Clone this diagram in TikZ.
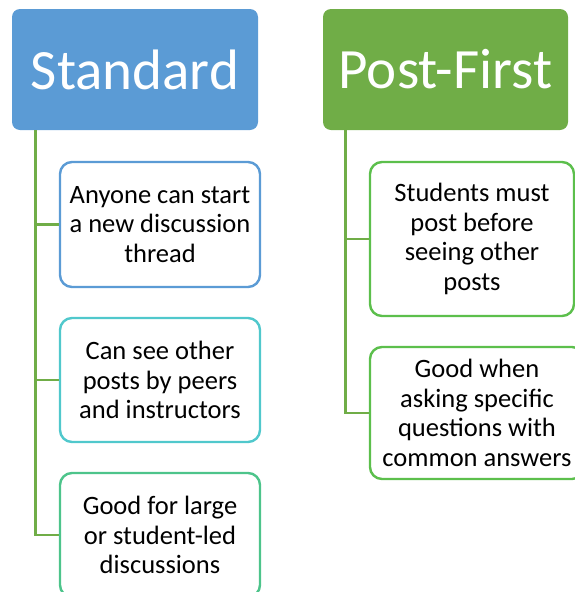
\documentclass[tikz,border=0pt]{standalone}
\usepackage{xcolor}
\usepackage{fontspec}
\setmainfont{Carlito}

\definecolor{stdblue}{HTML}{5B9BD5}
\definecolor{pfgreen}{HTML}{70AD47}
\definecolor{tealline}{HTML}{50C8CC}
\definecolor{mintline}{HTML}{4DC48B}
\definecolor{leafgreen}{HTML}{5CBF4C}

\tikzset{
  head/.style={rectangle, rounded corners=8pt, minimum height=121pt, inner sep=0pt,
    text=white, font=\fontsize{57}{60}\selectfont},
  leaf/.style={rectangle, rounded corners=12pt, draw, line width=2.4pt, fill=white,
    inner sep=0pt, align=center, font=\fontsize{26.5}{29.5}\selectfont},
  conn/.style={draw=pfgreen, line width=2.8pt}
}

\begin{document}
\begin{tikzpicture}[x=1pt,y=-1pt]
\useasboundingbox (0,0) rectangle (574,592) ;

\node[head, fill=stdblue, minimum width=246pt] (std) at (135,69.5) {Standard} ;
\node[head, fill=pfgreen, minimum width=245pt] (pf) at (445.5,69.5) {Post-First} ;

\node[leaf, draw=stdblue, minimum width=200pt, minimum height=125pt] (any) at (160,224.5) {Anyone can start\\a new discussion\\thread} ;
\node[leaf, draw=tealline, minimum width=200pt, minimum height=124pt] (see) at (160,380) {Can see other\\posts by peers\\and instructors} ;
\node[leaf, draw=mintline, minimum width=200pt, minimum height=124pt] (large) at (160,535) {Good for large\\or student-led\\discussions} ;

\node[leaf, draw=leafgreen, minimum width=204pt, minimum height=154pt] (must) at (472,239) {Students must\\post before\\seeing other\\posts} ;
\node[leaf, draw=leafgreen, minimum width=214pt, minimum height=132pt] (ask) at (477,413) {Good when\\asking specific\\questions with\\common answers} ;

\draw[conn] ([xshift=24pt]std.south west) |- (any.west) ;
\draw[conn] ([xshift=24pt]std.south west) |- (see.west) ;
\draw[conn] ([xshift=24pt]std.south west) |- (large.west) ;

\draw[conn] ([xshift=23pt]pf.south west) |- (must.west) ;
\draw[conn] ([xshift=23pt]pf.south west) |- (ask.west) ;

\end{tikzpicture}
\end{document}
